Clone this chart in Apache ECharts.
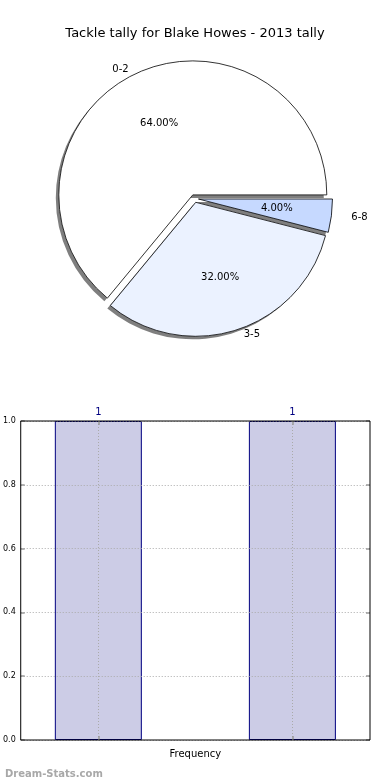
<!DOCTYPE html>
<html>
<head>
<meta charset="utf-8">
<script src="https://cdn.jsdelivr.net/npm/echarts@6/dist/echarts.min.js"></script>
<style>
html,body{margin:0;padding:0;background:#fff;}
#chart{width:390px;height:780px;}
</style>
</head>
<body>
<div id="chart"></div>
<script>
// ---- data ----
var titleText = 'Tackle tally for Blake Howes - 2013 tally';
var pieCategories = ['0-2', '3-5', '6-8'];
var pieValues = [16, 8, 1];
var pieColors = ['#ffffff', '#ebf2ff', '#c6d9ff'];
var barPositions = [0, 5];
var barValues = [1, 1];
var yTicks = [0, 0.2, 0.4, 0.6, 0.8, 1.0];
var xAxisName = 'Frequency';
var watermark = 'Dream-Stats.com';

var FONT = 'DejaVu Sans';
var total = pieValues.reduce(function (a, b) { return a + b; }, 0);
var R = 134;
var CENTER = [194.5, 198.5];
var OFFSET = 4;

function makePieData(withLine) {
  return pieCategories.map(function (c, i) {
    var d = {
      name: c, value: pieValues[i], selected: true,
      itemStyle: { color: pieColors[i] }
    };
    if (withLine && i === 2) d.labelLine = { length: 15, length2: 0 };
    return d;
  });
}
var pctData = pieCategories.map(function (c, i) {
  return { name: c, value: pieValues[i], selected: true };
});

var pieCommon = {
  type: 'pie',
  center: CENTER,
  startAngle: 0, clockwise: false,
  selectedMode: 'multiple', selectedOffset: OFFSET,
  avoidLabelOverlap: false,
  emphasis: { disabled: true }
};

var tickStyle = { color: '#999', width: 1.5 };
var gridLine = { show: true, lineStyle: { color: '#aaa', type: [1, 2], width: 1 } };

var chart = echarts.init(document.getElementById('chart'), null, { renderer: 'canvas' });
chart.setOption({
  animation: false,
  backgroundColor: '#ffffff',
  textStyle: { fontFamily: FONT },
  title: [{
    text: titleText, left: 'center', top: 22,
    textStyle: { fontFamily: FONT, fontSize: 13, fontWeight: 'normal', color: '#000' }
  }, {
    text: watermark, left: 0, top: 764,
    textStyle: { fontFamily: FONT, fontSize: 10, fontWeight: 'bold', color: '#a8a8a8' }
  }],
  grid: {
    left: 20, right: 20, top: 421, bottom: 40,
    show: true, borderColor: '#000', borderWidth: 1,
    backgroundColor: 'transparent', z: 10
  },
  xAxis: [{
    type: 'value', min: -2, max: 7, position: 'bottom',
    name: xAxisName, nameLocation: 'middle', nameGap: 9,
    nameTextStyle: { fontFamily: FONT, fontSize: 10, color: '#000' },
    axisLine: { show: false, onZero: false },
    axisLabel: { show: false },
    axisTick: { show: true, inside: true, length: 4, customValues: barPositions, lineStyle: tickStyle },
    splitLine: gridLine,
    z: 6
  }, {
    type: 'value', min: -2, max: 7, position: 'top',
    axisLine: { show: false, onZero: false },
    axisLabel: { show: false },
    axisTick: { show: true, inside: true, length: 4, customValues: barPositions, lineStyle: tickStyle },
    splitLine: { show: false },
    z: 6
  }],
  yAxis: [{
    type: 'value', min: 0, max: 1, interval: 0.2, position: 'left',
    axisLine: { show: false, onZero: false },
    axisTick: { show: true, inside: true, length: 4, lineStyle: tickStyle },
    axisLabel: {
      fontFamily: FONT, fontSize: 8, color: '#000', margin: 5,
      customValues: yTicks,
      formatter: function (v) { return v.toFixed(1); }
    },
    splitLine: gridLine,
    z: 6
  }, {
    type: 'value', min: 0, max: 1, interval: 0.2, position: 'right',
    axisLine: { show: false, onZero: false },
    axisTick: { show: true, inside: true, length: 4, lineStyle: tickStyle },
    axisLabel: { show: false },
    splitLine: { show: false },
    z: 6
  }],
  series: [
    // shadow layer (fill only, no outline)
    Object.assign({}, pieCommon, {
      radius: [0, R], silent: true, z: 1,
      itemStyle: {
        borderWidth: 0,
        shadowColor: 'rgba(0,0,0,0.5)', shadowBlur: 0, shadowOffsetX: -3, shadowOffsetY: 3
      },
      label: { show: false },
      labelLine: { show: false },
      data: makePieData(false)
    }),
    // main slices with outline and category labels
    Object.assign({}, pieCommon, {
      radius: [0, R], z: 2,
      itemStyle: { borderColor: '#000', borderWidth: 0.8 },
      label: {
        show: true, position: 'outside', fontFamily: FONT, fontSize: 10, color: '#000',
        formatter: '{b}', distanceToLabelLine: 5
      },
      labelLine: { show: false, length: 5, length2: 0 },
      data: makePieData(true)
    }),
    // percentage labels
    Object.assign({}, pieCommon, {
      radius: [18, R], silent: true, z: 3,
      itemStyle: { color: 'rgba(0,0,0,0)', borderWidth: 0 },
      label: {
        show: true, position: 'inside', fontFamily: FONT, fontSize: 10, color: '#000',
        formatter: function (p) { return (p.value / total * 100).toFixed(2) + '%'; }
      },
      labelLine: { show: false },
      data: pctData
    }),
    {
      type: 'bar',
      xAxisIndex: 0, yAxisIndex: 0,
      barWidth: 87,
      data: barPositions.map(function (x, i) { return [x, barValues[i]]; }),
      itemStyle: { color: '#cccce6', borderColor: '#000080', borderWidth: 1 },
      label: {
        show: true, position: 'top', distance: 4,
        fontFamily: FONT, fontSize: 10, color: '#000080',
        formatter: function (p) { return String(p.value[1]); }
      },
      emphasis: { disabled: true },
      z: 2
    }
  ]
});
</script>
</body>
</html>
